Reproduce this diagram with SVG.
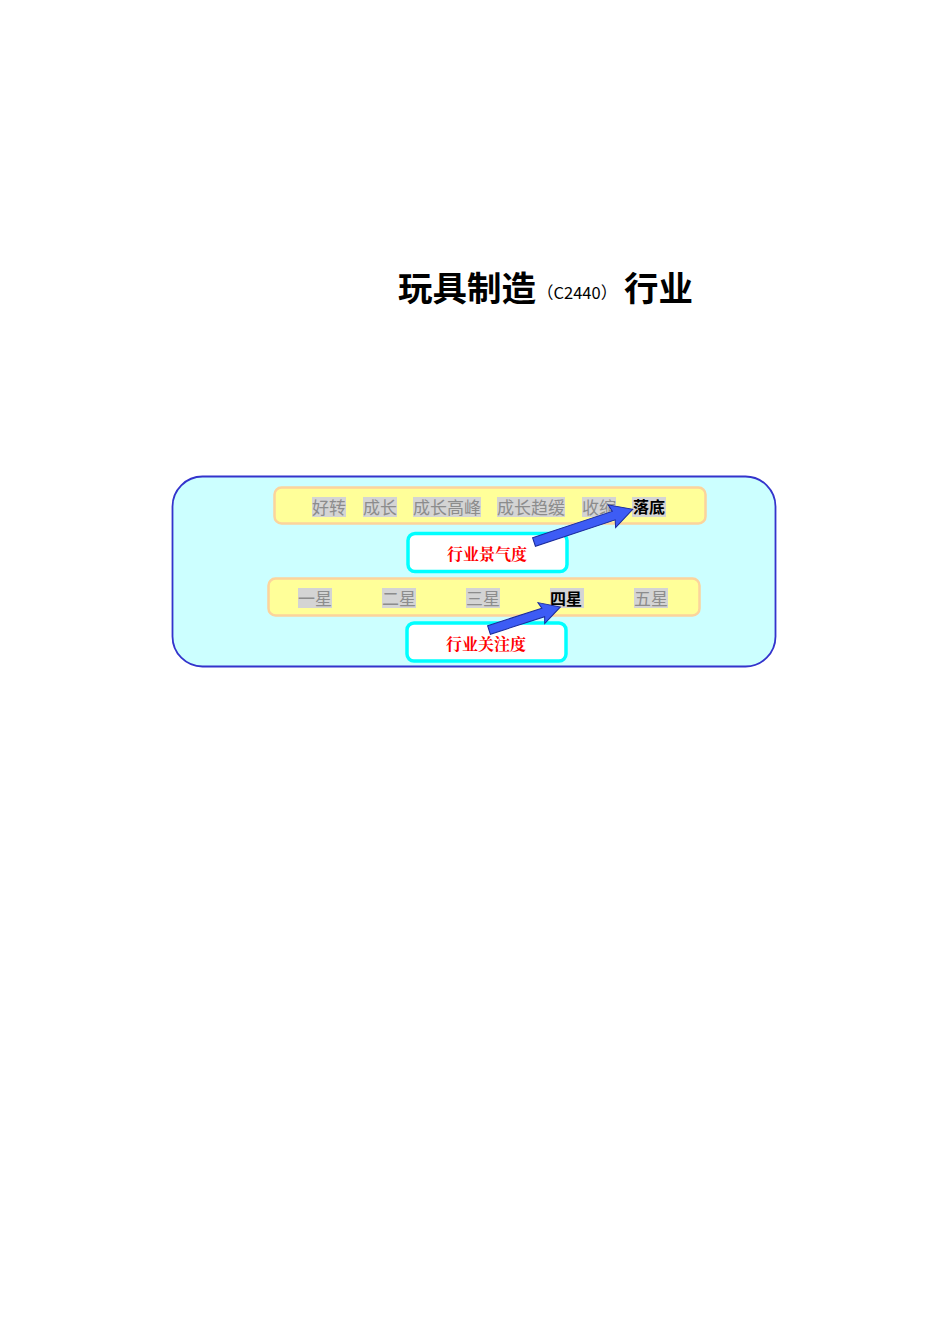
<svg xmlns="http://www.w3.org/2000/svg" width="950" height="1344" viewBox="0 0 950 1344">
<style>
.title{font-family:"Noto Sans CJK SC",sans-serif;font-weight:bold;fill:#000}
.lbl{font-family:"Noto Sans CJK SC",sans-serif;font-size:17px;fill:#8c8c8c}
.cur{font-family:"Noto Sans CJK SC",sans-serif;font-size:16px;font-weight:bold;fill:#000}
.hl{fill:#d4d4d4}
.bar{fill:#ffff99;stroke:#fcd49c;stroke-width:2.5}
.tag{fill:#ffffff;stroke:#00ffff;stroke-width:3.5}
.red{font-family:"Noto Serif CJK SC","Noto Sans CJK SC",serif;font-size:16px;font-weight:bold;fill:#ff0000}
.arrow{fill:#3d5cf5;stroke:#1a2a9a;stroke-width:1}
</style>
<rect width="950" height="1344" fill="#ffffff"/>
<g id="title">
<text x="398" y="301" class="title" font-size="34.5">玩具制造</text>
<text x="537" y="299" font-family="Noto Sans CJK SC, sans-serif" font-size="16.5" fill="#000">（C2440）</text>
<text x="624" y="301" class="title" font-size="34.5">行业</text>
</g>
<g id="panel">
<rect x="172.5" y="476.5" width="603" height="190" rx="30" ry="30" fill="#ccffff" stroke="#3333cc" stroke-width="1.8"/>
</g>
<g id="bar1">
<rect x="274.5" y="487.5" width="431" height="36" rx="7" class="bar"/>
<rect x="312" y="497" width="34" height="20" class="hl"/>
<text x="312" y="514" class="lbl">好转</text>
<rect x="363" y="497" width="34" height="20" class="hl"/>
<text x="363" y="514" class="lbl">成长</text>
<rect x="413" y="497" width="68" height="20" class="hl"/>
<text x="413" y="514" class="lbl">成长高峰</text>
<rect x="497" y="497" width="68" height="20" class="hl"/>
<text x="497" y="514" class="lbl">成长趋缓</text>
<rect x="582" y="497" width="34" height="20" class="hl"/>
<text x="582" y="514" class="lbl">收缩</text>
<rect x="632" y="497" width="34" height="20" class="hl"/>
<text x="633" y="513" class="cur">落底</text>
</g>
<g id="tag1">
<rect x="408" y="533.5" width="159" height="38" rx="7" class="tag"/>
<text x="487" y="560" text-anchor="middle" class="red">行业景气度</text>
</g>
<g id="bar2">
<rect x="268.5" y="578.5" width="431" height="37" rx="7" class="bar"/>
<rect x="298" y="588" width="34" height="20" class="hl"/>
<text x="298" y="605" class="lbl">一星</text>
<rect x="382" y="588" width="34" height="20" class="hl"/>
<text x="382" y="605" class="lbl">二星</text>
<rect x="466" y="588" width="34" height="20" class="hl"/>
<text x="466" y="605" class="lbl">三星</text>
<rect x="550" y="588" width="34" height="20" class="hl"/>
<text x="550" y="605" class="cur">四星</text>
<rect x="634" y="588" width="34" height="20" class="hl"/>
<text x="634" y="605" class="lbl">五星</text>
</g>
<g id="tag2">
<rect x="407" y="623" width="159" height="38" rx="7" class="tag"/>
<text x="486" y="650" text-anchor="middle" class="red">行业关注度</text>
</g>
<g id="connectors">
<polygon class="arrow" transform="translate(534,542) rotate(-18.3)" points="0,-4.5 84,-4.5 82,-12 104,0 82,12 84,4.5 0,4.5"/>
<polygon class="arrow" transform="translate(489,630) rotate(-17.9)" points="0,-4.5 57,-4.5 55,-11 75,0 55,11 57,4.5 0,4.5"/>
</g>
</svg>
